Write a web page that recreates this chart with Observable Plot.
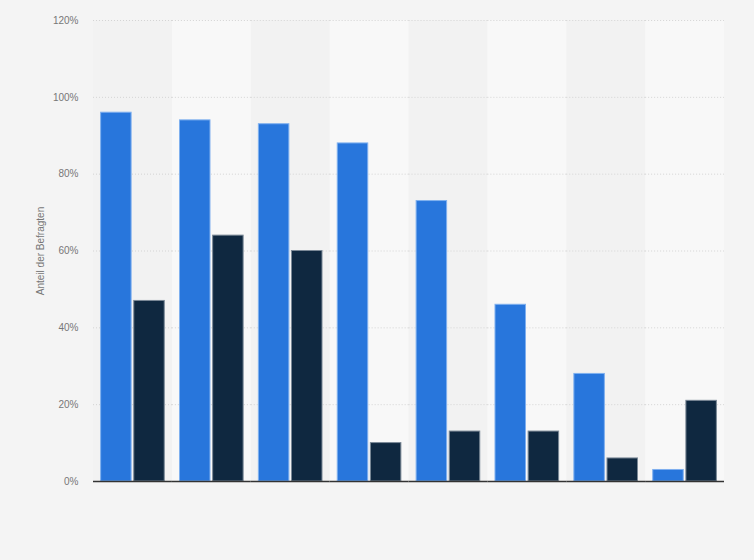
<!DOCTYPE html>
<html><head><meta charset="utf-8">
<script src="https://cdn.jsdelivr.net/npm/d3@7"></script>
<script src="https://cdn.jsdelivr.net/npm/@observablehq/plot@0.6"></script>
<style>
html,body{margin:0;padding:0;background:#f4f4f4;}
#chart{width:754px;height:560px;}
</style></head><body><div id="chart"></div>
<script>
const categories = ["Kategorie 1","Kategorie 2","Kategorie 3","Kategorie 4","Kategorie 5","Kategorie 6","Kategorie 7","Kategorie 8"];
const seriesNames = ["Serie A","Serie B"];
const valuesA = [96, 94, 93, 88, 73, 46, 28, 3];
const valuesB = [47, 64, 60, 10, 13, 13, 6, 21];
const yTicks = [0, 20, 40, 60, 80, 100, 120];
const yLabel = "Anteil der Befragten";

const rowsA = categories.map((c, i) => ({cat: c, series: seriesNames[0], value: valuesA[i]}));
const rowsB = categories.map((c, i) => ({cat: c, series: seriesNames[1], value: valuesB[i]}));
const lightStripes = categories.filter((c, i) => i % 2 === 1).map(c => ({cat: c}));
const darkStripes = categories.filter((c, i) => i % 2 === 0).map(c => ({cat: c}));

const chart = Plot.plot({
  width: 754,
  height: 560,
  marginLeft: 93,
  marginRight: 30,
  marginTop: 20,
  marginBottom: 79,
  style: {background: "#f4f4f4", fontFamily: "'Liberation Sans', Arial, sans-serif", fontSize: "10px", color: "#777"},
  fx: {domain: categories, padding: 0, round: false, axis: null, label: null},
  x: {domain: seriesNames, paddingInner: 0.08, paddingOuter: 0.23, round: false, axis: null},
  y: {domain: [0, 120]},
  marks: [
    Plot.rect(darkStripes, {fx: "cat", fill: "#f2f2f2"}),
    Plot.rect(lightStripes, {fx: "cat", fill: "#f8f8f8"}),
    Plot.gridY(yTicks.filter(t => t > 0), {stroke: "#d4d4d4", strokeOpacity: 1, strokeDasharray: "1,2"}),
    Plot.axisY(yTicks, {tickSize: 0, tickPadding: 15, tickFormat: d => d + "%", label: yLabel, labelAnchor: "center", labelOffset: 57, labelArrow: "none", fill: "#777"}),
    Plot.barY(rowsA, {fx: "cat", x: "series", y: "value", fill: "#2876dc", stroke: "#7fb0ef", strokeWidth: 1}),
    Plot.barY(rowsB, {fx: "cat", x: "series", y: "value", fill: "#0f2840", stroke: "#7a8896", strokeWidth: 1}),
    Plot.ruleY([0], {stroke: "#333", strokeWidth: 1.5})
  ]
});
document.getElementById("chart").appendChild(chart);
</script>
</body></html>
